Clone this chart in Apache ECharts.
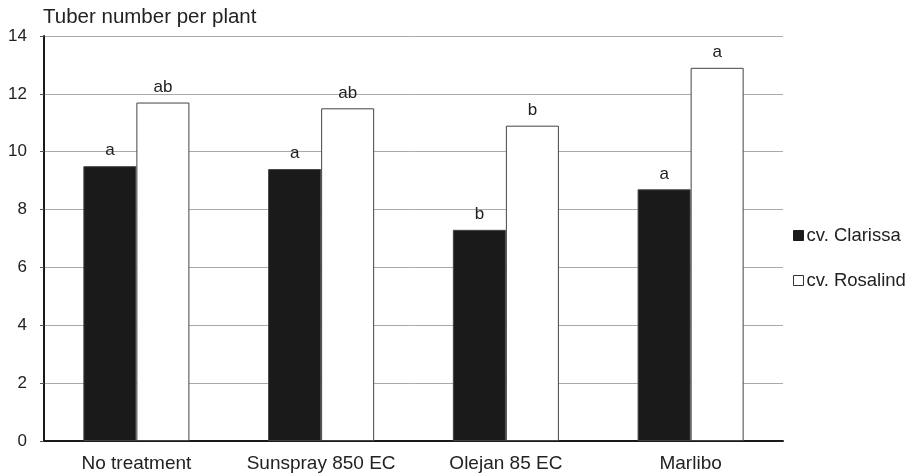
<!DOCTYPE html>
<html><head><meta charset="utf-8">
<script src="https://cdn.jsdelivr.net/npm/echarts@6/dist/echarts.min.js"></script>
<style>html,body{margin:0;padding:0;background:#fff}#c{width:912px;height:475px}</style>
</head><body><div id="c"></div>
<script>
const categories = ["No treatment", "Sunspray 850 EC", "Olejan 85 EC", "Marlibo"];
const clarissa = [9.5, 9.4, 7.3, 8.7];
const rosalind = [11.7, 11.5, 10.9, 12.9];
const clarissaLetters = ["a", "a", "b", "a"];
const rosalindLetters = ["ab", "ab", "b", "a"];
const yTicks = [0, 2, 4, 6, 8, 10, 12, 14];

const chart = echarts.init(document.getElementById('c'), null, {renderer: 'canvas'});
const font = 'Liberation Sans, Arial, sans-serif';
chart.setOption({
  animation: false,
  backgroundColor: '#fff',
  textStyle: {fontFamily: font},
  grid: {left: 44, right: 129, top: 36, bottom: 34},
  legend: {
    orient: 'vertical', left: 788, top: 221, itemGap: 26,
    icon: 'rect', itemWidth: 10, itemHeight: 10,
    textStyle: {fontSize: 18.5, color: '#222', fontFamily: font, padding: [0, 0, 0, -2]},
    data: [
      {name: 'cv. Clarissa', itemStyle: {color: '#1a1a1a', borderColor: '#1a1a1a', borderWidth: 1}},
      {name: 'cv. Rosalind', itemStyle: {color: '#fff', borderColor: '#333', borderWidth: 1}}
    ]
  },
  xAxis: {
    type: 'category', data: categories,
    axisLine: {lineStyle: {color: '#1a1a1a', width: 2}},
    axisTick: {show: false},
    axisLabel: {fontSize: 19, color: '#222', margin: 13, fontFamily: font, interval: 0}
  },
  yAxis: {
    type: 'value', min: yTicks[0], max: yTicks[yTicks.length - 1], interval: 2,
    name: 'Tuber number per plant', nameLocation: 'end', nameGap: 8,
    nameTextStyle: {fontSize: 20.5, color: '#222', align: 'left', padding: [0, 0, 0, -1], fontFamily: font},
    axisLine: {show: true, lineStyle: {color: '#1a1a1a', width: 2}},
    axisTick: {show: true, length: 4, lineStyle: {color: '#555'}},
    axisLabel: {fontSize: 17, color: '#222', margin: 17, fontFamily: font},
    splitLine: {lineStyle: {color: '#aaa', width: 1}}
  },
  series: [
    {
      name: 'cv. Clarissa', type: 'bar', data: clarissa, barCategoryGap: '42.6%', barGap: '0%',
      itemStyle: {color: '#1a1a1a', borderColor: '#444', borderWidth: 1},
      label: {show: true, position: 'top', distance: 7, fontSize: 17, color: '#222', fontFamily: font,
        formatter: p => clarissaLetters[p.dataIndex]}
    },
    {
      name: 'cv. Rosalind', type: 'bar', data: rosalind, barCategoryGap: '42.6%', barGap: '0%',
      itemStyle: {color: '#fff', borderColor: '#444', borderWidth: 1},
      label: {show: true, position: 'top', distance: 7, fontSize: 17, color: '#222', fontFamily: font,
        formatter: p => rosalindLetters[p.dataIndex]}
    }
  ]
});
</script></body></html>
